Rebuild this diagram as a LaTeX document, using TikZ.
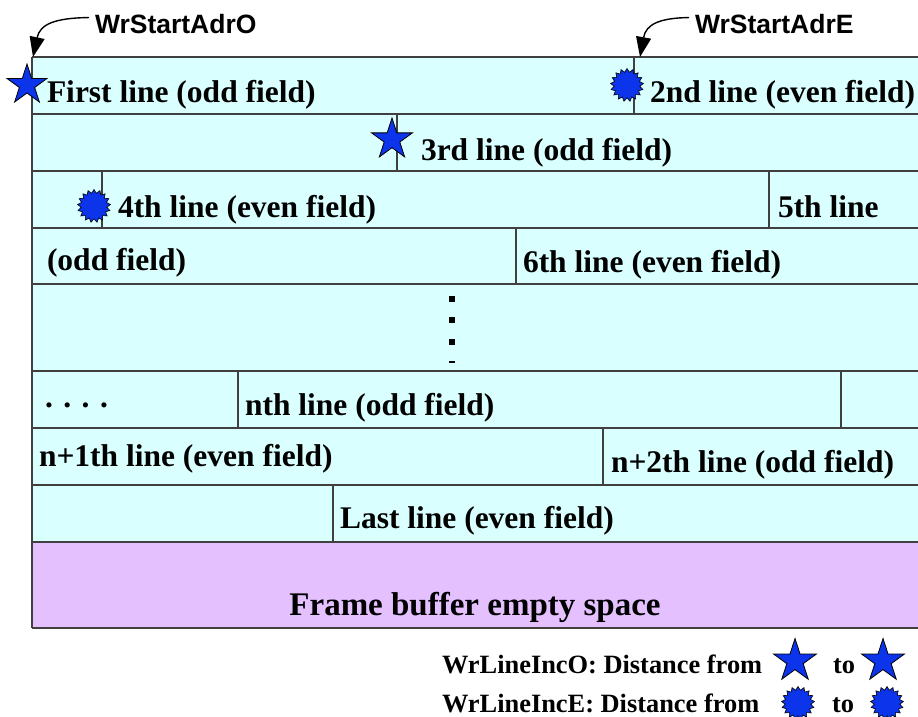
\documentclass[tikz,border=0pt]{standalone}
\usepackage{fontspec}
\setmainfont{Liberation Serif}
\newfontfamily\headfont{Liberation Sans}
\usetikzlibrary{shapes.geometric,arrows.meta}

\definecolor{linefill}{RGB}{217,255,255}
\definecolor{emptyfill}{RGB}{228,192,255}
\definecolor{edge}{RGB}{64,64,64}
\definecolor{markblue}{RGB}{12,52,235}

\tikzset{
  rowline/.style={draw=edge, line width=1.6pt},
  rowtext/.style={anchor=base west, inner sep=0pt, outer sep=0pt,
    font=\fontsize{31.5}{36}\selectfont\bfseries},
  keytext/.style={anchor=base west, inner sep=0pt, outer sep=0pt,
    font=\fontsize{26.4}{30}\selectfont\bfseries},
  headtext/.style={anchor=base west, inner sep=0pt, outer sep=0pt,
    font=\fontsize{26.5}{30}\selectfont\headfont\bfseries},
  oddmark/.style={star, star points=5, star point ratio=2.618,
    draw=black, line width=0.8pt, fill=markblue, inner sep=0pt, outer sep=0pt},
  evenmark/.style={star, star points=17, star point ratio=1.28,
    draw=black, line width=0.6pt, fill=markblue, inner sep=0pt, outer sep=0pt,
    minimum size=33pt},
  pointer/.style={draw=black, line width=1.4pt,
    -{Triangle[length=20pt,width=15pt]}},
  dotmark/.style={fill=black}
}

\begin{document}
\begin{tikzpicture}[x=1pt,y=-1pt]
\useasboundingbox (0,0) rectangle (918,716);

\begin{scope}
  \clip (0,0) rectangle (918,716);
  % frame buffer background
  \fill[linefill] (32,57) rectangle (940,542);
  \fill[emptyfill] (32,542) rectangle (940,628);
  % horizontal row boundaries
  \foreach \yy in {57,114,171,228,284,371,428,485,542,628}
    \draw[rowline] (32,\yy) -- (940,\yy);
  % left edge
  \draw[rowline] (32,57) -- (32,628);
  % line splits inside rows
  \draw[rowline] (634,57) -- (634,114);
  \draw[rowline] (397,114) -- (397,171);
  \draw[rowline] (102,171) -- (102,228);
  \draw[rowline] (769,171) -- (769,228);
  \draw[rowline] (516,228) -- (516,284);
  \draw[rowline] (238,371) -- (238,428);
  \draw[rowline] (841,371) -- (841,428);
  \draw[rowline] (603,428) -- (603,485);
  \draw[rowline] (333,485) -- (333,542);
\end{scope}

% vertical ellipsis
\fill[dotmark] (449,296) rectangle (455,302);
\fill[dotmark] (449,317) rectangle (455,323);
\fill[dotmark] (449,339) rectangle (455,345);
\fill[dotmark] (449,361) rectangle (455,363);

% row labels
\node[rowtext] (l1) at (47,102) {First line (odd field)};
\node[rowtext] (l2) at (650,102) {2nd line (even field)};
\node[rowtext] (l3) at (421,160) {3rd line (odd field)};
\node[rowtext] (l4) at (118,217) {4th line (even field)};
\node[rowtext] (l5a) at (778,217) {5th line};
\node[rowtext] (l5b) at (47,270) {(odd field)};
\node[rowtext] (l6) at (523,272) {6th line (even field)};
\node[rowtext] (ldots) at (45,407) {. . . .};
\node[rowtext] (ln) at (245,415) {nth line (odd field)};
\node[rowtext] (ln1) at (39,466) {n+1th line (even field)};
\node[rowtext] (ln2) at (611,472) {n+2th line (odd field)};
\node[rowtext] (llast) at (340,528) {Last line (even field)};
\node[rowtext, anchor=base, font=\fontsize{33}{38}\selectfont\bfseries]
  (lempty) at (475,615) {Frame buffer empty space};

% line start markers
\node[oddmark, minimum size=42pt] (s1) at (27,85) {};
\node[evenmark] (e1) at (627,85) {};
\node[oddmark, minimum size=43pt] (s2) at (392,139.5) {};
\node[evenmark] (e2) at (94,206) {};

% start address pointers
\node[headtext] (adrO) at (95,33) {WrStartAdrO};
\node[headtext] (adrE) at (695,33) {WrStartAdrE};
\coordinate (tipO) at (33,57);
\coordinate (tipE) at (640,57);
\draw[pointer] ([xshift=-6pt,yshift=6pt]adrO.west) .. controls (55,18) and (40,24) .. (tipO);
\draw[pointer] ([xshift=-6pt,yshift=6pt]adrE.west) .. controls (660,18) and (646,24) .. (tipE);

% legend
\node[keytext] (keyO) at (442,673) {WrLineIncO: Distance from};
\node[oddmark, minimum size=45pt] (keyOa) at (795,661) {};
\node[keytext] (keyOto) at (833,673) {to};
\node[oddmark, minimum size=45pt] (keyOb) at (883,661) {};
\node[keytext] (keyE) at (442,712) {WrLineIncE: Distance from};
\node[evenmark] (keyEa) at (798,703) {};
\node[keytext] (keyEto) at (832,712) {to};
\node[evenmark] (keyEb) at (887,703) {};
\end{tikzpicture}
\end{document}
